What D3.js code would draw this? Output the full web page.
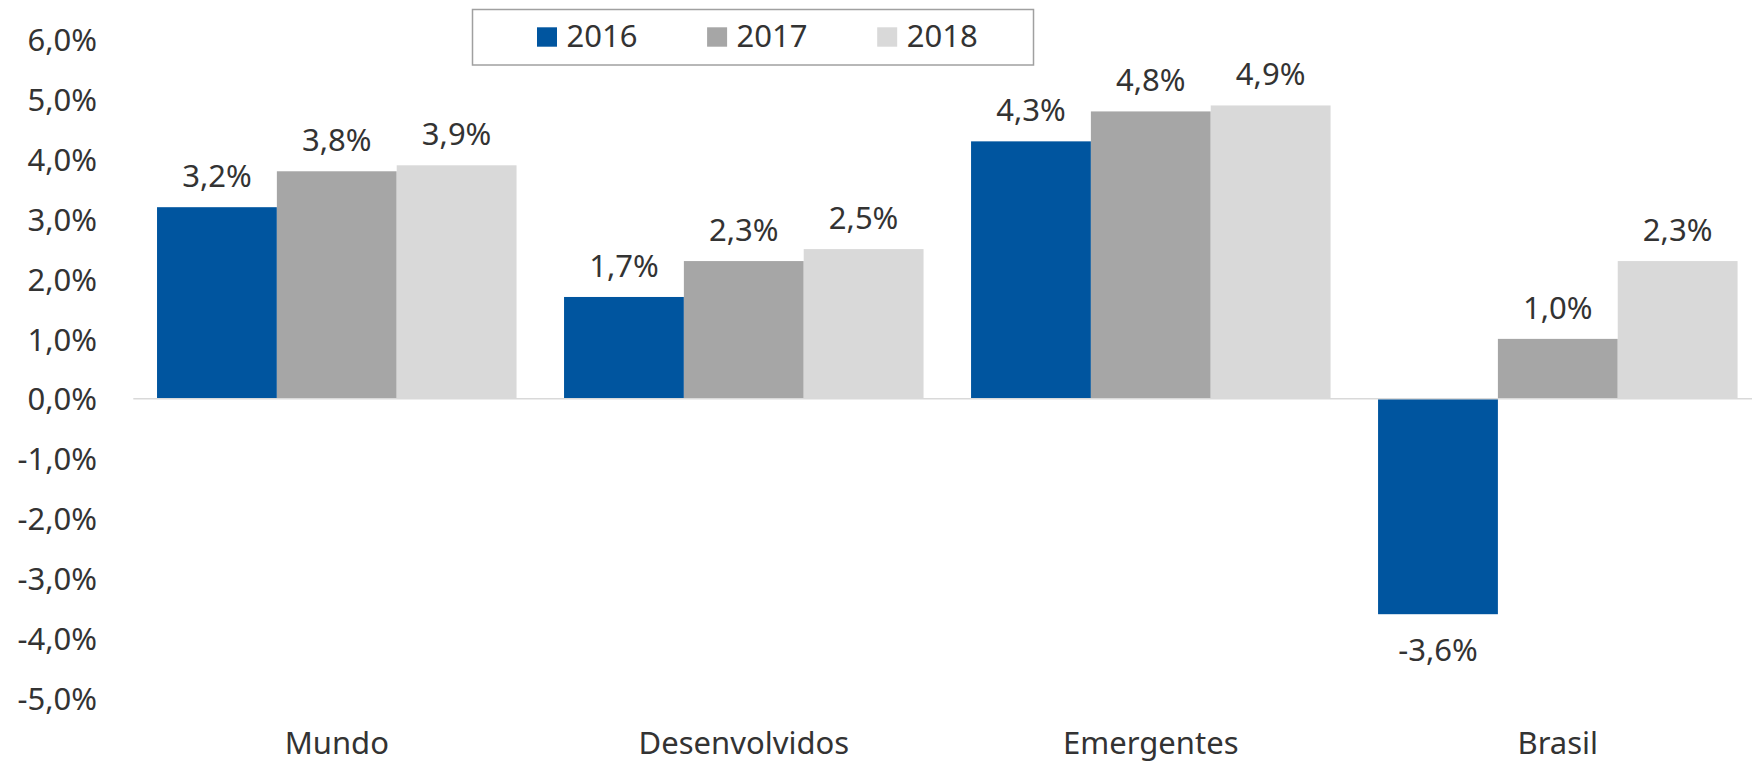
<!DOCTYPE html>
<html>
<head>
<meta charset="utf-8">
<script src="https://cdn.jsdelivr.net/npm/d3@7"></script>
<style>
  html, body { margin: 0; padding: 0; background: #ffffff; }
  svg { display: block; }
  text { font-family: "Noto Sans", "Open Sans", sans-serif; fill: #333333; }
</style>
</head>
<body>
<svg id="chart" width="1752" height="763"></svg>
<script>
const categories = ["Mundo", "Desenvolvidos", "Emergentes", "Brasil"];
const years = ["2016", "2017", "2018"];
const values2016 = [3.2, 1.7, 4.3, -3.6];
const values2017 = [3.8, 2.3, 4.8, 1.0];
const values2018 = [3.9, 2.5, 4.9, 2.3];
const yTicks = [-5, -4, -3, -2, -1, 0, 1, 2, 3, 4, 5, 6];
const colors = ["#00559F", "#A6A6A6", "#D9D9D9"];

const seriesValues = [values2016, values2017, values2018];
const table = categories.map((c, i) => ({
  category: c,
  items: years.map((y, j) => ({ year: y, value: seriesValues[j][i], color: colors[j] }))
}));

const W = 1752, H = 763;
const svg = d3.select("#chart");
const fontSize = 31;
const fmt = v => v.toFixed(1).replace(".", ",") + "%";

const x0 = d3.scaleBand().domain(categories).range([133.3, 1761.3])
  .paddingInner(0.1167).paddingOuter(0.0583);
const x1 = d3.scaleBand().domain(years).range([0, x0.bandwidth()]).padding(0);
const y = d3.scaleLinear().domain([-5, 6]).range([698, 39.6]);

// y axis labels (no line, no ticks)
const yAxis = d3.axisLeft(y).tickValues(yTicks).tickFormat(fmt).tickSize(0).tickPadding(0);
const gy = svg.append("g").attr("transform", "translate(97,0)").call(yAxis);
gy.select(".domain").remove();
gy.selectAll("text")
  .attr("font-size", fontSize)
  .attr("font-family", "Noto Sans, Open Sans, sans-serif")
  .attr("fill", "#333333")
  .attr("dy", "0.36em");

// bars
const groups = svg.append("g").selectAll("g").data(table).join("g")
  .attr("transform", d => `translate(${x0(d.category)},0)`);

groups.selectAll("rect").data(d => d.items).join("rect")
  .attr("x", d => x1(d.year))
  .attr("width", x1.bandwidth())
  .attr("y", d => y(Math.max(0, d.value)))
  .attr("height", d => Math.abs(y(d.value) - y(0)))
  .attr("fill", d => d.color);

// zero line
svg.append("line")
  .attr("x1", 133.3).attr("x2", W)
  .attr("y1", y(0)).attr("y2", y(0))
  .attr("stroke", "#D9D9D9").attr("stroke-width", 1.5);

// value labels
groups.selectAll("text.val").data(d => d.items).join("text")
  .attr("class", "val")
  .attr("x", d => x1(d.year) + x1.bandwidth() / 2)
  .attr("y", d => d.value >= 0 ? y(d.value) - 20 : y(d.value) + 47)
  .attr("text-anchor", "middle")
  .attr("font-size", fontSize)
  .text(d => fmt(d.value));

// category labels
const xAxis = d3.axisBottom(x0).tickSize(0).tickPadding(0);
const gx = svg.append("g").call(xAxis);
gx.select(".domain").remove();
gx.selectAll("text")
  .attr("font-size", fontSize)
  .attr("font-family", "Noto Sans, Open Sans, sans-serif")
  .attr("fill", "#333333")
  .attr("y", 754)
  .attr("dy", 0);

// legend
const legend = svg.append("g");
legend.append("rect")
  .attr("x", 472.5).attr("y", 9.5).attr("width", 561).attr("height", 55.5)
  .attr("fill", "#ffffff").attr("stroke", "#A0A0A0").attr("stroke-width", 1.5);
const li = legend.selectAll("g.item").data(years).join("g")
  .attr("class", "item")
  .attr("transform", (d, i) => `translate(${537 + i * 170.1},0)`);
li.append("rect")
  .attr("x", 0).attr("y", 27.3).attr("width", 20).attr("height", 19.4)
  .attr("fill", (d, i) => colors[i]);
li.append("text")
  .attr("x", 29.5).attr("y", 47.3)
  .attr("font-size", fontSize)
  .text(d => d);
</script>
</body>
</html>
